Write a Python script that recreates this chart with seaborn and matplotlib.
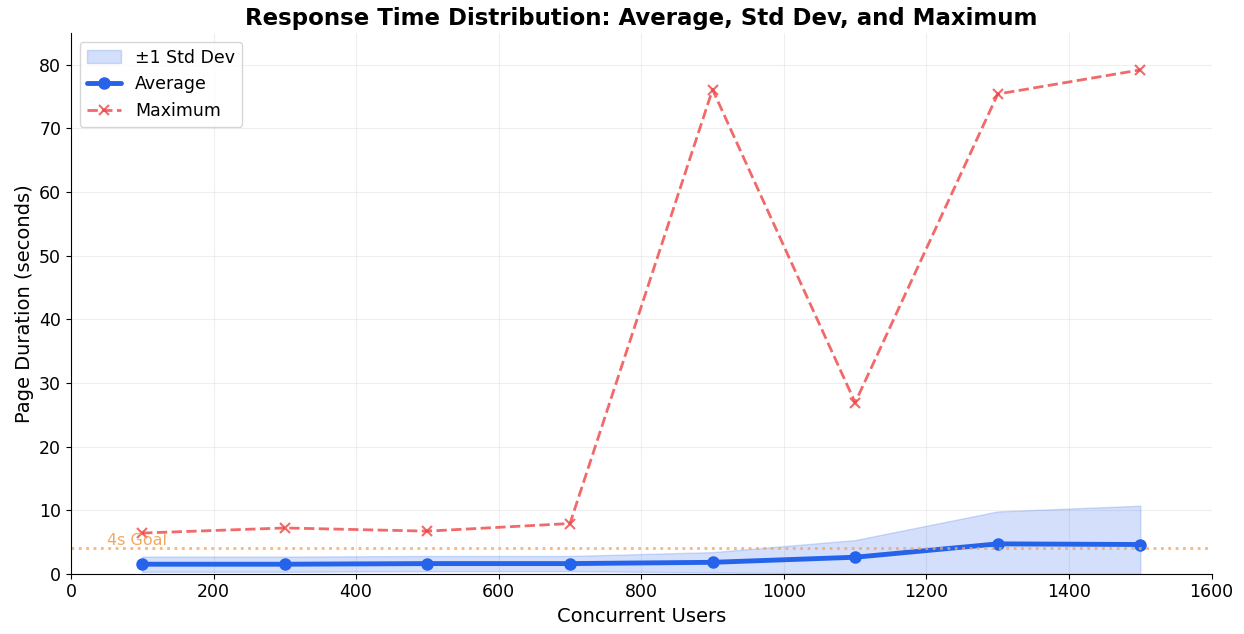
import numpy as np
import pandas as pd
import seaborn as sns
import matplotlib.pyplot as plt

# load test results
users = [100, 300, 500, 700, 900, 1100, 1300, 1500]
avg_time = [1.5, 1.5, 1.6, 1.6, 1.8, 2.6, 4.7, 4.6]
std_time = [1.2, 1.2, 1.2, 1.2, 1.6, 2.7, 5.1, 6.1]
max_time = [6.4, 7.2, 6.7, 7.9, 76.1, 26.9, 75.4, 79.2]
goal = 4

df = pd.DataFrame({"users": users, "avg": avg_time, "std": std_time, "max": max_time})
lower = np.clip(df["avg"] - df["std"], 0, None)
upper = df["avg"] + df["std"]

sns.set_style("ticks", {"axes.edgecolor": "black", "text.color": "black",
                        "axes.labelcolor": "black", "xtick.color": "black",
                        "ytick.color": "black"})
fig, ax = plt.subplots(figsize=(12.44, 6.34), dpi=100)

ax.fill_between(df["users"], lower, upper, color="#2563eb", alpha=0.2, label="±1 Std Dev")
sns.lineplot(data=df, x="users", y="avg", ax=ax, color="#2563eb", linewidth=3.5,
             marker="o", markersize=9, markeredgewidth=0, label="Average")
sns.lineplot(data=df, x="users", y="max", ax=ax, color="#ef4444", alpha=0.8, linewidth=2,
             linestyle="--", marker="x", markersize=7, markeredgewidth=1.5,
             markeredgecolor="#ef4444", label="Maximum")

ax.axhline(goal, color="#f4a460", linestyle=":", linewidth=2, alpha=0.8)
ax.text(50, goal + 0.5, "4s Goal", color="#f0a050", fontsize=11.5, alpha=0.9)

ax.set_xlim(0, 1600)
ax.set_ylim(0, 85)
ax.grid(True, alpha=0.3)
sns.despine(ax=ax)
ax.tick_params(labelsize=12.5)
ax.set_xlabel("Concurrent Users", fontsize=14)
ax.set_ylabel("Page Duration (seconds)", fontsize=14)
ax.set_title("Response Time Distribution: Average, Std Dev, and Maximum", fontsize=16.5, fontweight="bold")
ax.legend(loc="upper left", fontsize=12.5)

plt.subplots_adjust(left=0.057, right=0.974, top=0.948, bottom=0.095)
plt.savefig("out.png", dpi=100)
